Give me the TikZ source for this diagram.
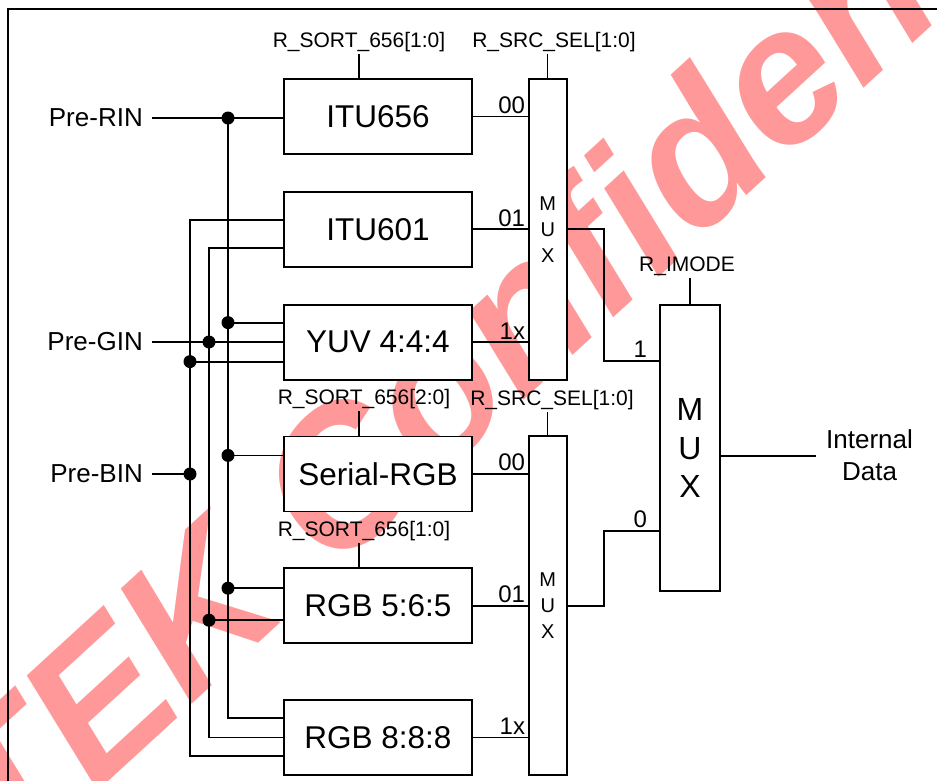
\documentclass[tikz,border=0pt]{standalone}
\usepackage{fontspec}
\setmainfont{Liberation Sans}
\usepackage{tikz}
\usetikzlibrary{positioning}
\definecolor{wmpink}{HTML}{FF9999}
\tikzset{
  blk/.style={draw, fill=white, line width=1.8pt, minimum width=188pt, minimum height=75pt,
              inner sep=0pt, font=\fontsize{31.5}{31.5}\selectfont},
  muxbox/.style={draw, fill=white, line width=1.8pt, minimum width=38pt, inner sep=0pt,
                 align=center, font=\fontsize{20}{26}\selectfont},
  bigmux/.style={muxbox, minimum width=60pt, font=\fontsize{32}{38.5}\selectfont},
  sel/.style={font=\fontsize{21}{21}\selectfont, inner sep=2pt},
  pin/.style={font=\fontsize{24}{24}\selectfont, inner sep=2pt, anchor=south east},
  pinlbl/.style={font=\fontsize{24}{24}\selectfont, inner sep=2.5pt, above},
  inlbl/.style={font=\fontsize{26}{26}\selectfont, anchor=east, inner xsep=9pt, inner ysep=0pt},
  outlbl/.style={font=\fontsize{26}{32}\selectfont, align=center, anchor=west, inner xsep=10pt, inner ysep=0pt},
  wire/.style={line width=1.8pt},
  tick/.style={line width=1.3pt},
  frame/.style={line width=2.2pt},
  dot/.style={circle, fill, inner sep=0pt, minimum size=13pt},
  wmark/.style={inner sep=0pt, text=wmpink, font=\fontsize{193}{193}\selectfont\bfseries\itshape},
}

\begin{document}
\begin{tikzpicture}[x=1pt, y=-1pt]
  \path[use as bounding box] (0,0) rectangle (937,780);
  \clip (0,0) rectangle (937,780);
  \fill[white] (0,0) rectangle (937,780);
  \node[wmark, rotate=42.5, anchor=base west] (wm) at (8,873) {TEK Confidential};
  \draw[frame] (8,800) -- (8,9) -- (960,9);

  \node[blk] (itu656) at (378,116.5) {ITU656};
  \node[blk, below=36pt of itu656] (itu601) {ITU601};
  \node[blk, below=36pt of itu601] (yuv) {YUV 4:4:4};
  \node[blk, below=55pt of yuv] (srgb) {Serial-RGB};
  \node[blk, below=55pt of srgb] (rgb565) {RGB 5:6:5};
  \node[blk, below=55pt of rgb565] (rgb888) {RGB 8:8:8};

  \node[muxbox, minimum height=301pt, right=55pt of itu601] (mux1) {M\\U\\X};
  \node[muxbox, minimum height=339pt, right=55pt of rgb565] (mux2) {M\\U\\X};
  \node[bigmux, minimum height=286pt] (mux3) at (690,448) {M\\U\\X};

  \node[sel] (sortA) at (359,42) {R\_SORT\_656[1:0]};
  \node[sel] (srcA) at (554,42) {R\_SRC\_SEL[1:0]};
  \node[sel] (imode) at (687,266) {R\_IMODE};
  \node[sel] (sortB) at (364,399) {R\_SORT\_656[2:0]};
  \node[sel] (srcB) at (552,400) {R\_SRC\_SEL[1:0]};
  \node[sel] (sortC) at (364,531) {R\_SORT\_656[1:0]};

  \coordinate (tk) at (359,0);
  \draw[tick] (tk |- sortA.south) -- (tk |- itu656.north);
  \draw[tick] (tk |- sortB.south) -- (tk |- srgb.north);
  \draw[tick] (tk |- sortC.south) -- (tk |- rgb565.north);
  \draw[tick] (mux1.north |- srcA.south) -- (mux1.north);
  \draw[tick] (mux2.north |- srcB.south) -- (mux2.north);
  \draw[tick] (mux3.north |- imode.south) -- (mux3.north);

  \draw[wire] (itu656.east) -- (itu656.east -| mux1.west) node[pin] {00};
  \draw[wire] (itu601.east) -- (itu601.east -| mux1.west) node[pin] {01};
  \draw[wire] (yuv.east) -- (yuv.east -| mux1.west) node[pin] {1x};
  \draw[wire] (srgb.east) -- (srgb.east -| mux2.west) node[pin] {00};
  \draw[wire] (rgb565.east) -- (rgb565.east -| mux2.west) node[pin] {01};
  \draw[wire] (rgb888.east) -- (rgb888.east -| mux2.west) node[pin] {1x};

  \coordinate (jog) at (604,0);
  \coordinate (in1) at ([yshift=87pt]mux3.west);
  \coordinate (in0) at ([yshift=-83pt]mux3.west);
  \draw[wire] (mux1.east) -- (jog |- mux1.east) -- (jog |- in1) -- (in1) node[pinlbl, pos=0.66] {1};
  \draw[wire] (mux2.east) -- (jog |- mux2.east) -- (jog |- in0) -- (in0) node[pinlbl, pos=0.66] {0};

  \coordinate (out) at ([yshift=-8pt]mux3.east);
  \node[outlbl] (intdata) at (816,455) {Internal\\Data};
  \draw[wire] (out) -- (out -| intdata.west);

  \node[inlbl] (prerin) at (152,118) {Pre-RIN};
  \node[inlbl] (pregin) at (152,342) {Pre-GIN};
  \node[inlbl] (prebin) at (152,474) {Pre-BIN};

  \coordinate (rx) at (228,0);
  \coordinate (gx) at (209,0);
  \coordinate (bx) at (190,0);
  \coordinate (itu601b) at ([yshift=9.5pt]itu601.west);
  \coordinate (itu601g) at ([yshift=-18.5pt]itu601.west);
  \coordinate (yuvr) at ([yshift=19.5pt]yuv.west);
  \coordinate (yuvb) at ([yshift=-19.5pt]yuv.west);
  \coordinate (srgbr) at ([yshift=18.5pt]srgb.west);
  \coordinate (rgb565r) at ([yshift=17.5pt]rgb565.west);
  \coordinate (rgb565g) at ([yshift=-14.5pt]rgb565.west);
  \coordinate (rgb888r) at ([yshift=19.5pt]rgb888.west);
  \coordinate (rgb888b) at ([yshift=-18.5pt]rgb888.west);

  \draw[wire] (prerin.east) -- (prerin.east -| itu656.west);
  \draw[wire] (pregin.east) -- (pregin.east -| yuv.west);
  \draw[wire] (prebin.east) -- (bx |- prebin.east);
  \draw[wire] (rx |- prerin.east) -- (rx |- rgb888r) -- (rgb888r);
  \draw[wire] (itu601g) -- (gx |- itu601g) -- (gx |- rgb888.west) -- (rgb888.west);
  \draw[wire] (itu601b) -- (bx |- itu601b) -- (bx |- rgb888b) -- (rgb888b);
  \draw[wire] (rx |- yuvr) -- (yuvr);
  \draw[wire] (bx |- yuvb) -- (yuvb);
  \draw[wire] (rx |- srgbr) -- (srgbr);
  \draw[wire] (rx |- rgb565r) -- (rgb565r);
  \draw[wire] (gx |- rgb565g) -- (rgb565g);

  \foreach \p [count=\i] in {rx |- prerin.east, rx |- yuvr, rx |- srgbr, rx |- rgb565r,
                              gx |- pregin.east, gx |- rgb565g, bx |- yuvb, bx |- prebin.east}
    \node[dot] (j\i) at (\p) {};
\end{tikzpicture}
\end{document}
